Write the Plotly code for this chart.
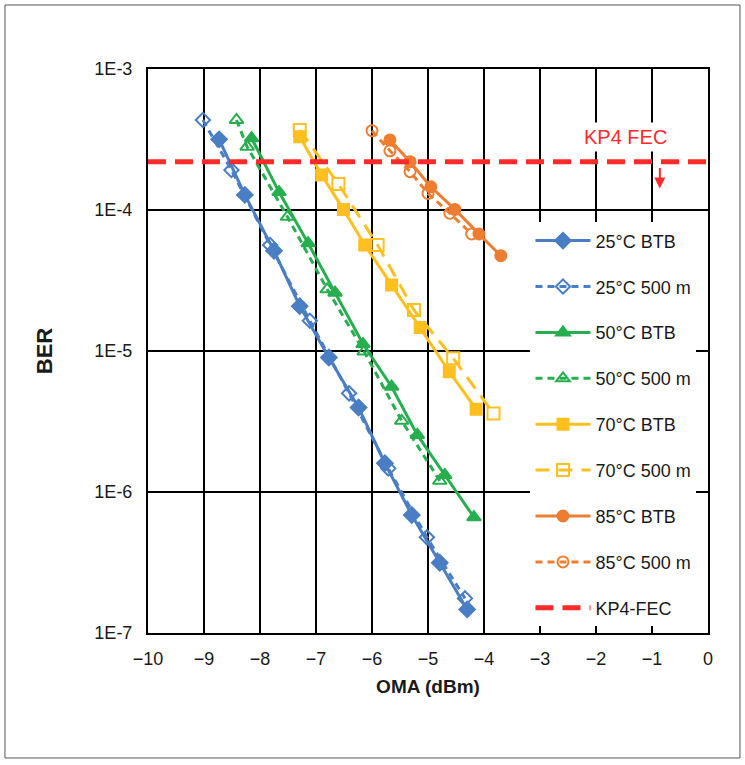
import plotly.graph_objects as go

# OMA (dBm) and BER for each temperature, back-to-back (BTB) and after 500 m
oma_25_btb = [-8.73, -8.27, -7.75, -7.29, -6.77, -6.24, -5.77, -5.29, -4.79, -4.30]
ber_25_btb = [3.17e-4, 1.28e-4, 5.14e-5, 2.08e-5, 9.0e-6, 3.97e-6, 1.60e-6, 6.87e-7, 3.15e-7, 1.47e-7]

oma_25_500 = [-9.02, -8.51, -7.82, -7.11, -6.41, -5.71, -5.02, -4.34]
ber_25_500 = [4.35e-4, 1.92e-4, 5.65e-5, 1.64e-5, 5.01e-6, 1.47e-6, 4.77e-7, 1.76e-7]

oma_50_btb = [-8.15, -7.66, -7.14, -6.66, -6.16, -5.65, -5.19, -4.70, -4.18]
ber_50_btb = [3.23e-4, 1.34e-4, 5.81e-5, 2.59e-5, 1.12e-5, 5.58e-6, 2.54e-6, 1.32e-6, 6.62e-7]

oma_50_500 = [-8.42, -8.23, -7.51, -6.80, -6.14, -5.47, -4.79]
ber_50_500 = [4.35e-4, 2.81e-4, 8.95e-5, 2.74e-5, 9.9e-6, 3.2e-6, 1.2e-6]

oma_70_btb = [-7.29, -6.90, -6.51, -6.13, -5.65, -5.14, -4.62, -4.14]
ber_70_btb = [3.31e-4, 1.77e-4, 1.01e-4, 5.65e-5, 2.94e-5, 1.47e-5, 7.13e-6, 3.86e-6]

oma_70_500 = [-7.29, -6.60, -5.90, -5.25, -4.55, -3.83]
ber_70_500 = [3.69e-4, 1.53e-4, 5.65e-5, 1.95e-5, 8.87e-6, 3.61e-6]

oma_85_btb = [-5.68, -5.32, -4.95, -4.52, -4.09, -3.70]
ber_85_btb = [3.14e-4, 2.20e-4, 1.46e-4, 1.01e-4, 6.76e-5, 4.74e-5]

oma_85_500 = [-6.00, -5.68, -5.32, -5.00, -4.61, -4.22]
ber_85_500 = [3.65e-4, 2.63e-4, 1.87e-4, 1.31e-4, 9.48e-5, 6.76e-5]

# KP4 FEC threshold
kp4_oma = [-10, 0]
kp4_ber = [2.2e-4, 2.2e-4]

x_ticks = [-10, -9, -8, -7, -6, -5, -4, -3, -2, -1, 0]
y_ticks = [1e-3, 1e-4, 1e-5, 1e-6, 1e-7]
y_tick_text = ["1E-3", "1E-4", "1E-5", "1E-6", "1E-7"]

BLUE = "#4A7EC4"
GREEN = "#27AE4F"
YELLOW = "#FFBF1F"
ORANGE = "#ED7D31"
RED = "#FF2A2A"
INK = "#1a1a1a"
FONT = "Arial, Liberation Sans, sans-serif"

SHORT_DASH = "7px,5px"
LONG_DASH = "14px,9px"

series = [
    ("25°C BTB", oma_25_btb, ber_25_btb, BLUE, "solid", "diamond", 12),
    ("25°C 500 m", oma_25_500, ber_25_500, BLUE, SHORT_DASH, "diamond-open", 11),
    ("50°C BTB", oma_50_btb, ber_50_btb, GREEN, "solid", "triangle-up", 12),
    ("50°C 500 m", oma_50_500, ber_50_500, GREEN, SHORT_DASH, "triangle-up-open", 12),
    ("70°C BTB", oma_70_btb, ber_70_btb, YELLOW, "solid", "square", 11),
    ("70°C 500 m", oma_70_500, ber_70_500, YELLOW, LONG_DASH, "square-open", 12),
    ("85°C BTB", oma_85_btb, ber_85_btb, ORANGE, "solid", "circle", 11),
    ("85°C 500 m", oma_85_500, ber_85_500, ORANGE, SHORT_DASH, "circle-open", 11),
]

fig = go.Figure()
for name, xs, ys, color, dash, symbol, size in series:
    fig.add_trace(go.Scatter(
        x=xs, y=ys, name=name, legendgroup=name, mode="lines+markers",
        line=dict(color=color, width=3, dash=dash),
        marker=dict(symbol=symbol, size=size, color=color,
                    line=dict(color=color, width=2)),
    ))

fig.add_trace(go.Scatter(
    x=kp4_oma, y=kp4_ber, name="KP4-FEC", legendgroup="KP4-FEC", mode="lines",
    line=dict(color=RED, width=5, dash="18px,9px"),
))

fig.update_xaxes(
    range=[-10, 0], tickvals=x_ticks, ticks="", ticklabelstandoff=8,
    showgrid=True, gridcolor="black", gridwidth=1.5,
    showline=True, linecolor="black", linewidth=2, mirror=True,
    zeroline=False,
    tickfont=dict(family=FONT, size=18, color=INK),
    title=dict(text="<b>OMA (dBm)</b>", font=dict(family=FONT, size=19, color=INK),
               standoff=12),
)
fig.update_yaxes(
    type="log", range=[-7, -3], tickvals=y_ticks, ticktext=y_tick_text, ticks="",
    ticklabelstandoff=10,
    showgrid=True, gridcolor="black", gridwidth=1.5,
    showline=True, linecolor="black", linewidth=2, mirror=True,
    tickfont=dict(family=FONT, size=18, color=INK),
    title=dict(text="<b>BER</b>", font=dict(family=FONT, size=22, color=INK),
               standoff=36),
)

# threshold label and direction arrow
fig.add_annotation(
    x=-1.48, y=0.879, xref="x", yref="paper", yanchor="middle",
    text="KP4 FEC", showarrow=False,
    font=dict(family=FONT, size=20, color=RED), bgcolor="white", borderpad=3,
)
fig.add_annotation(
    x=-0.86, y=0.788, xref="x", yref="paper", text="", showarrow=True,
    ax=0, ay=-22, arrowcolor=RED, arrowwidth=2, arrowhead=2, arrowsize=1.1,
)

# outer frame of the figure
fig.add_shape(type="rect", xref="paper", yref="paper",
              x0=-0.2554, x1=1.0571, y0=-0.2216, y1=1.1135,
              line=dict(color="#555555", width=1), layer="below")

fig.update_layout(
    width=745, height=765,
    margin=dict(l=148, r=37, t=69, b=132),
    paper_bgcolor="white", plot_bgcolor="white",
    font=dict(family=FONT),
    showlegend=True,
    legend=dict(
        x=0.683, y=0.728, xanchor="left", yanchor="top",
        bgcolor="white", borderwidth=0,
        font=dict(family=FONT, size=18, color=INK),
        tracegroupgap=19.5, itemwidth=55,
    ),
)

fig.write_html("out.html")
